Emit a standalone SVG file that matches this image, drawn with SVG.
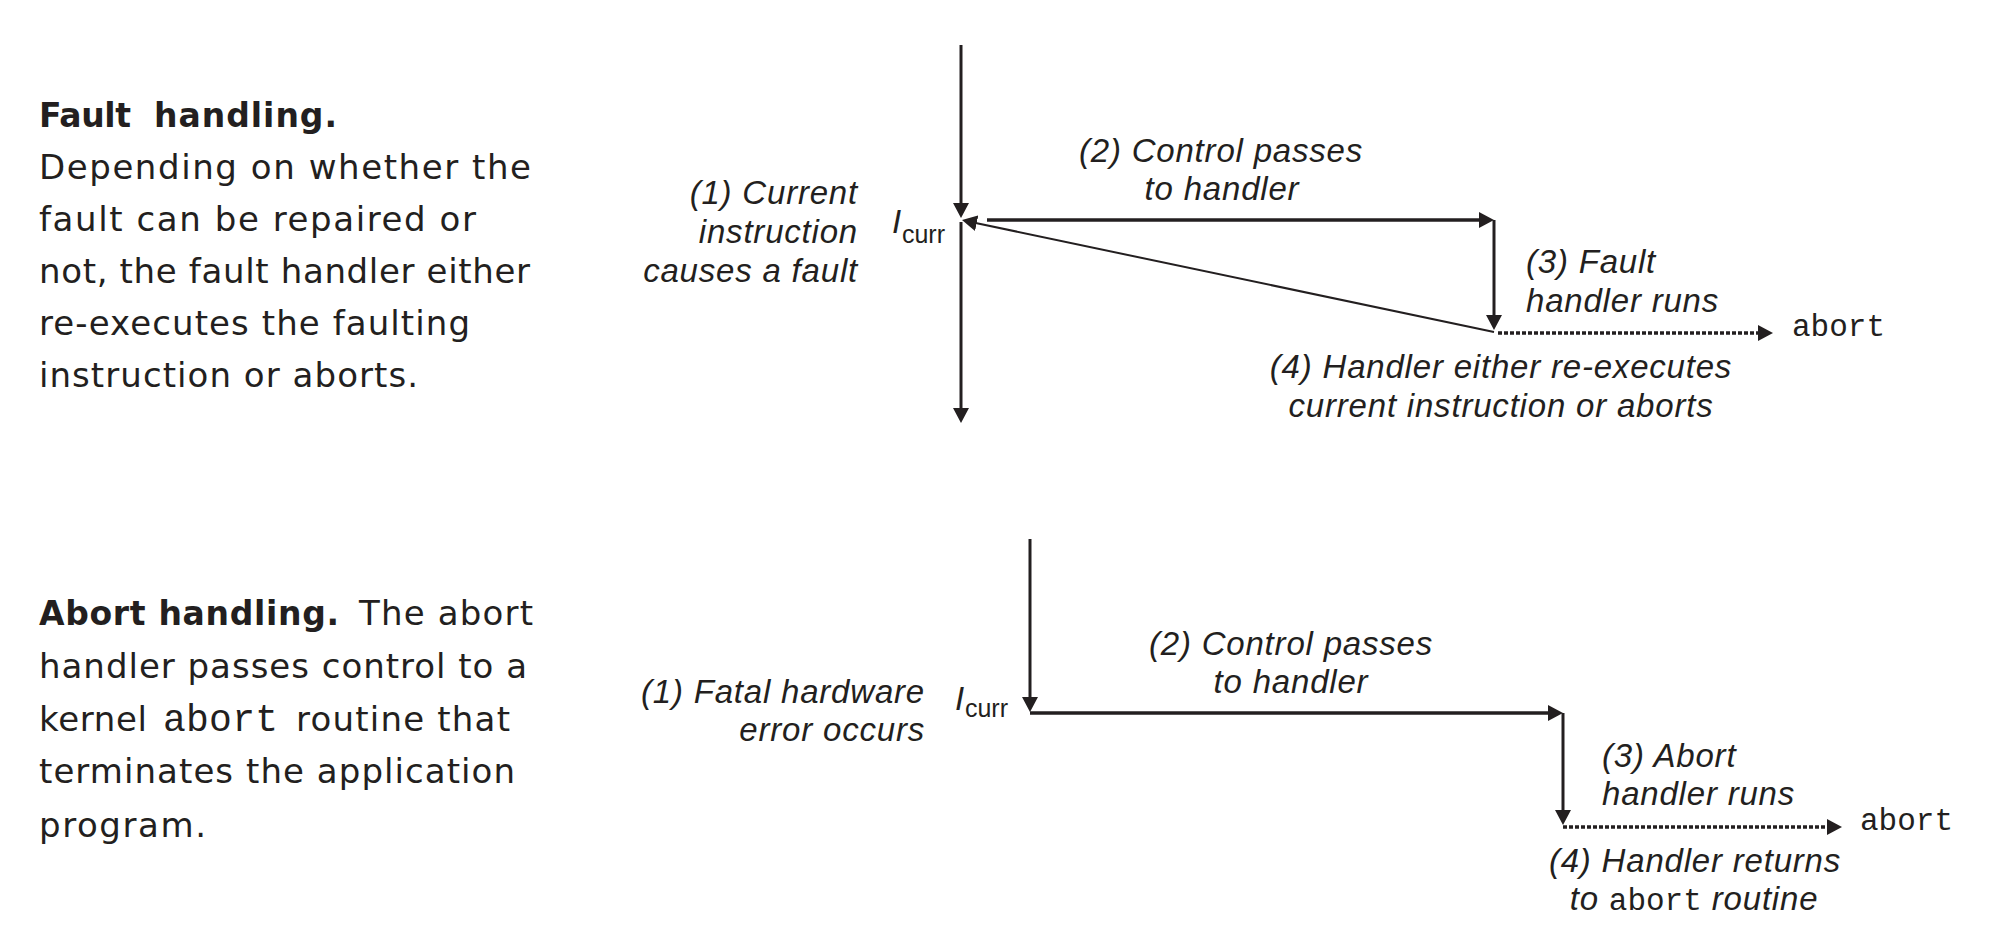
<svg xmlns="http://www.w3.org/2000/svg" width="2002" height="952" viewBox="0 0 2002 952">
<style>
.para{font-family:"DejaVu Sans","Open Sans",sans-serif;font-size:34px;fill:#231f20}
.b{font-weight:bold;font-size:33px}
.lbl{font-family:"Liberation Sans",Arial,sans-serif;font-style:italic;font-size:33px;letter-spacing:0.8px;fill:#231f20}
.mono{font-family:"Liberation Mono","Courier New",monospace;font-style:normal;font-size:31px;letter-spacing:0;fill:#231f20}
.sub{font-style:normal;font-size:25px;letter-spacing:0}
.ln{stroke:#231f20;fill:none;stroke-width:3}
.thick{stroke-width:3.6}
.thin{stroke-width:2}
.dot{stroke-dasharray:4 2;stroke-width:3.4}
</style>
<defs>
<marker id="ah" markerUnits="userSpaceOnUse" viewBox="0 0 15 16" markerWidth="15" markerHeight="16" refX="1" refY="8" orient="auto">
<path d="M0,0 L15,8 L0,16 z" fill="#231f20"/>
</marker>
</defs>
<rect width="2002" height="952" fill="#ffffff"/>

<g id="fault-description">
<text class="para b" x="39" y="127" textLength="92">Fault</text>
<text class="para b" x="154" y="127" textLength="183">handling.</text>
<text class="para" x="39" y="179" textLength="492">Depending on whether the</text>
<text class="para" x="39" y="231" textLength="437">fault can be repaired or</text>
<text class="para" x="39" y="283" textLength="491">not, the fault handler either</text>
<text class="para" x="39" y="335" textLength="431">re-executes the faulting</text>
<text class="para" x="39" y="387" textLength="379">instruction or aborts.</text>
</g>

<g id="abort-description">
<text class="para b" x="39" y="625" textLength="300">Abort handling.</text>
<text class="para" x="359" y="625" textLength="174">The abort</text>
<text class="para" x="39" y="678" textLength="488">handler passes control to a</text>
<text class="para" x="39" y="731" textLength="108">kernel</text>
<text class="mono" x="163" y="731" textLength="115" style="font-size:38px">abort</text>
<text class="para" x="296" y="731" textLength="214">routine that</text>
<text class="para" x="39" y="783" textLength="476">terminates the application</text>
<text class="para" x="39" y="837" textLength="167">program.</text>
</g>

<g id="connectors">
<line class="ln" x1="961" y1="45" x2="961" y2="204" marker-end="url(#ah)"/>
<line class="ln" x1="961" y1="222" x2="961" y2="409" marker-end="url(#ah)"/>
<line class="ln thick" x1="987" y1="220" x2="1480" y2="220" marker-end="url(#ah)"/>
<line class="ln" x1="1494" y1="220" x2="1494" y2="316" marker-end="url(#ah)"/>
<line class="ln thin" x1="1494" y1="332" x2="975.7" y2="223" marker-end="url(#ah)"/>
<line class="ln dot" x1="1498" y1="333" x2="1759" y2="333" marker-end="url(#ah)"/>
<line class="ln" x1="1030" y1="539" x2="1030" y2="698" marker-end="url(#ah)"/>
<line class="ln thick" x1="1030" y1="713" x2="1549" y2="713" marker-end="url(#ah)"/>
<line class="ln" x1="1563" y1="713" x2="1563" y2="811" marker-end="url(#ah)"/>
<line class="ln dot" x1="1563" y1="827" x2="1828" y2="827" marker-end="url(#ah)"/>
</g>

<g id="fault-step1">
<text class="lbl" x="858" y="204" text-anchor="end">(1) Current</text>
<text class="lbl" x="858" y="243" text-anchor="end">instruction</text>
<text class="lbl" x="858" y="282" text-anchor="end">causes a fault</text>
</g>
<g id="fault-icurr">
<text class="lbl" x="892" y="233">I<tspan class="sub" dy="10">curr</tspan></text>
</g>
<g id="fault-step2">
<text class="lbl" x="1221" y="162" text-anchor="middle">(2) Control passes</text>
<text class="lbl" x="1222" y="200" text-anchor="middle">to handler</text>
</g>
<g id="fault-step3">
<text class="lbl" x="1526" y="273">(3) Fault</text>
<text class="lbl" x="1526" y="312">handler runs</text>
</g>
<g id="fault-abort">
<text class="mono" x="1792" y="336">abort</text>
</g>
<g id="fault-step4">
<text class="lbl" x="1501" y="378" text-anchor="middle">(4) Handler either re-executes</text>
<text class="lbl" x="1501" y="417" text-anchor="middle">current instruction or aborts</text>
</g>

<g id="abort-step1">
<text class="lbl" x="925" y="703" text-anchor="end">(1) Fatal hardware</text>
<text class="lbl" x="925" y="741" text-anchor="end">error occurs</text>
</g>
<g id="abort-icurr">
<text class="lbl" x="955" y="710">I<tspan class="sub" dy="7">curr</tspan></text>
</g>
<g id="abort-step2">
<text class="lbl" x="1291" y="655" text-anchor="middle">(2) Control passes</text>
<text class="lbl" x="1291" y="693" text-anchor="middle">to handler</text>
</g>
<g id="abort-step3">
<text class="lbl" x="1602" y="767">(3) Abort</text>
<text class="lbl" x="1602" y="805">handler runs</text>
</g>
<g id="abort-abort">
<text class="mono" x="1860" y="830">abort</text>
</g>
<g id="abort-step4">
<text class="lbl" x="1695" y="872" text-anchor="middle">(4) Handler returns</text>
<text class="lbl" x="1694" y="910" text-anchor="middle">to <tspan class="mono">abort</tspan> routine</text>
</g>
</svg>
